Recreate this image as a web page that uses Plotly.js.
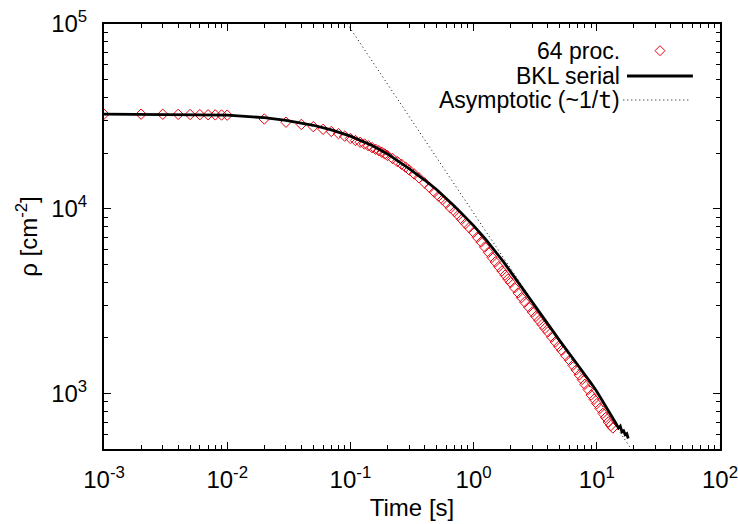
<!DOCTYPE html>
<html>
<head>
<meta charset="utf-8">
<script src="https://cdn.plot.ly/plotly-3.0.1.min.js"></script>
<style>html,body{margin:0;padding:0;background:#fff;}#chart{width:738px;height:524px;}</style>
</head>
<body>
<div id="chart"></div>
<script>
// ---- data ----
const tRed = [0.001,0.002,0.003,0.004,0.005,0.006,0.007,0.008,0.009,0.01,
  0.02,0.03,0.04,0.05,0.06,0.07,0.08,0.09,0.1,
  0.11,0.12,0.13,0.14,0.15,0.16,0.17,0.18,0.19,0.2,
  0.22,0.24,0.26,0.28,0.3,0.33,0.36,0.4,0.44,0.48,0.52,0.56,0.6,0.65,0.7,0.75,0.8,0.86,0.92,
  1.0,1.07,1.15,1.23,1.32,1.41,1.5,1.6,1.7,1.8,1.9,2.0,2.15,2.3,2.45,2.6,2.8,3.0,3.2,3.4,3.6,3.8,
  4.0,4.3,4.6,4.9,5.2,5.6,6.0,6.4,6.8,7.2,7.6,8.0,8.5,9.0,9.5,10.0,10.6,11.2,11.8,12.4,13.0,13.5];
const rhoRed = [32500,32500,32450,32400,32350,32300,32250,32200,32150,32100,
  30600,29400,28600,27800,26900,26200,25500,24700,24000,
  23400,22900,22400,21900,21400,21000,20600,20200,19800,19400,
  18700,18000,17400,16800,16200,15400,14700,13800,13000,12300,11700,11200,10700,10100,9650,9200,8750,8300,7900,
  7450,7000,6600,6200,5800,5450,5150,4850,4600,4370,4160,3980,3730,3500,3300,3120,2930,2760,2610,2480,2360,2250,
  2150,2020,1900,1800,1710,1600,1510,1420,1340,1260,1190,1120,1050,980,930,880,830,780,740,700,670,650];

const tBKL = [0.001,0.003,0.01,0.02,0.03,0.05,0.07,0.1,0.15,0.2,0.3,0.4,0.5,0.7,1.0,1.25,1.5,1.75,2.0,2.5,3.0,4.0,5.0,6.0,7.0,8.0,9.0,10,11,12,13,14,15,15.5,16,16.5,17,17.5,18];
const rhoBKL = [32500,32450,32100,31100,30100,28300,26700,24700,22000,19800,16500,14300,12700,10300,8100,6850,5900,5150,4550,3680,3090,2360,1930,1640,1430,1265,1135,1025,925,835,765,705,650,665,620,628,598,605,570];

const tAsym = [0.09, 20];
const rhoAsym = [105000, 475];

const xTickVals = [0.001,0.01,0.1,1,10,100];
const xTickText = ['10<sup>-3</sup>','10<sup>-2</sup>','10<sup>-1</sup>','10<sup>0</sup>','10<sup>1</sup>','10<sup>2</sup>'];
const yTickVals = [1000,10000,100000];
const yTickText = ['10<sup>3</sup>','10<sup>4</sup>','10<sup>5</sup>'];

const legendNames = ['64 proc.','BKL serial','Asymptotic (~1/<span style="font-family:\'DejaVu Sans Mono\',monospace">t</span>)'];

// minor tick positions (2..9 within each decade)
function minors(lo, hi){ const out=[]; for(let e=lo;e<hi;e++){ for(let k=2;k<=9;k++){ out.push(k*Math.pow(10,e)); } } return out; }
const xMinor = minors(-3,2);
const yMinor = minors(2,5).filter(v=>v>=500);

const FONT = 'Liberation Sans, Arial, sans-serif';
const FS = 24;
const LFS = 23;

const traces = [
  {x:tAsym, y:rhoAsym, type:'scatter', mode:'lines', line:{color:'#000', width:1, dash:'1px,3px'}, showlegend:false, hoverinfo:'skip'},
  {x:tRed, y:rhoRed, type:'scatter', mode:'markers', marker:{symbol:'diamond-open', size:8, color:'#e8000b', line:{width:1, color:'#e8000b'}}, showlegend:false, cliponaxis:true},
  {x:tBKL, y:rhoBKL, type:'scatter', mode:'lines', line:{color:'#000', width:2.8}, showlegend:false}
];

const axBase = {
  type:'log', showgrid:false, zeroline:false, showline:true, linecolor:'#000', linewidth:2,
  ticks:'inside', ticklen:7, tickwidth:1, tickcolor:'#000', mirror:'allticks',
  tickmode:'array', tickfont:{family:FONT, size:FS, color:'#000'}, ticklabeloverflow:'allow'
};

const legX = 0.839, legY = [0.9372, 0.8776, 0.8212];

const layout = {
  width:738, height:524,
  margin:{l:104, r:18, t:24, b:75},
  paper_bgcolor:'#fff', plot_bgcolor:'#fff',
  font:{family:FONT, size:FS, color:'#000'},
  xaxis: Object.assign({}, axBase, {
    range:[-3,2], tickvals:xTickVals, ticktext:xTickText, ticklabelstandoff:8,
    minor:{tickmode:'array', tickvals:xMinor, ticks:'inside', ticklen:4, tickcolor:'#000', tickwidth:1},
    title:{text:'Time [s]', font:{family:FONT, size:FS}, standoff:7}
  }),
  yaxis: Object.assign({}, axBase, {
    range:[Math.log10(500),5], tickvals:yTickVals, ticktext:yTickText, ticklabelstandoff:10,
    minor:{tickmode:'array', tickvals:yMinor, ticks:'inside', ticklen:4, tickcolor:'#000', tickwidth:1},
    title:{text:'ρ [cm<sup>-2</sup>]', font:{family:FONT, size:FS}, standoff:7}
  }),
  showlegend:false,
  annotations: legendNames.map((n,i)=>({
    text:n, xref:'paper', yref:'paper', x:legX, y:legY[i], xanchor:'right', yanchor:'middle',
    showarrow:false, borderpad:0, font:{family:FONT, size:LFS, color:'#000'}
  })),
  shapes:[
    {type:'path', xref:'paper', yref:'paper', xsizemode:'pixel', ysizemode:'pixel', xanchor:0.9026, yanchor:legY[0],
     path:'M -5,0 L 0,5 L 5,0 L 0,-5 Z', line:{color:'#e8000b', width:1}},
    {type:'line', xref:'paper', yref:'paper', x0:0.849, x1:0.956, y0:legY[1], y1:legY[1], line:{color:'#000', width:2.8}},
    {type:'line', xref:'paper', yref:'paper', x0:0.843, x1:0.951, y0:legY[2], y1:legY[2], line:{color:'#000', width:1, dash:'1px,3px'}}
  ]
};

Plotly.newPlot('chart', traces, layout, {staticPlot:true, displayModeBar:false});
</script>
</body>
</html>
